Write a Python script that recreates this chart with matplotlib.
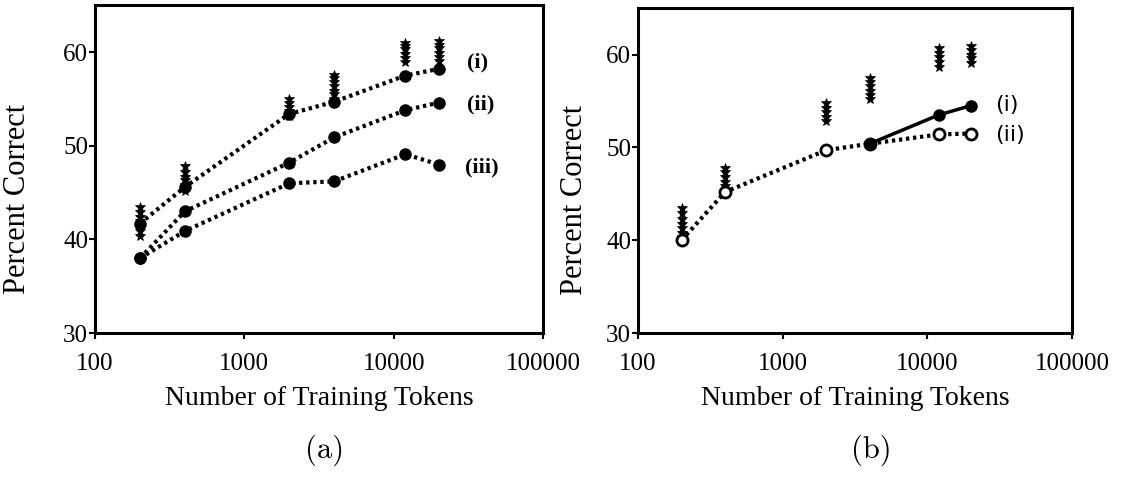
import matplotlib.pyplot as plt
from matplotlib.ticker import FixedLocator, NullLocator, FixedFormatter

# training set sizes (x axis, log scale)
tokens = [200, 400, 2000, 4000, 12000, 20000]

# panel (a) curves
a_i = [41.7, 45.6, 53.4, 54.7, 57.5, 58.2]
a_ii = [38.0, 43.0, 48.2, 50.9, 53.8, 54.6]
a_iii = [38.0, 40.9, 46.0, 46.2, 49.1, 48.0]

# panel (b) curves
b_i_tokens = [4000, 12000, 20000]
b_i = [50.4, 53.5, 54.5]
b_ii = [40.0, 45.2, 49.7, 50.4, 51.4, 51.5]

# stacked star marks above each training size
stars_a = [
    [40.4, 40.9, 41.5, 42.0, 42.4, 42.9, 43.5],
    [45.2, 45.8, 46.3, 46.7, 47.2, 47.8],
    [53.2, 53.7, 54.1, 54.6, 55.0],
    [55.0, 55.5, 55.9, 56.4, 56.8, 57.2, 57.6],
    [58.9, 59.4, 59.8, 60.3, 60.7, 61.0],
    [59.0, 59.5, 59.9, 60.4, 60.8, 61.2],
]
stars_b = [
    [40.3, 40.8, 41.3, 41.8, 42.3, 42.9, 43.5],
    [45.3, 45.8, 46.3, 46.8, 47.3, 47.8],
    [52.8, 53.3, 53.8, 54.3, 54.8],
    [55.2, 55.7, 56.1, 56.6, 57.0, 57.5],
    [58.7, 59.2, 59.7, 60.2, 60.7],
    [59.1, 59.6, 60.0, 60.5, 60.9],
]

xticks = [100, 1000, 10000, 100000]
xtick_labels = ['100', '1000', '10000', '100000']
yticks = [30, 40, 50, 60]

serif = 'Liberation Serif'
dotted = (0, (0.8, 0.9))

fig = plt.figure(figsize=(11.34, 4.8), dpi=100)
ax_a = fig.add_axes([0.0838, 0.306, 0.395, 0.683])
ax_b = fig.add_axes([0.5626, 0.306, 0.3827, 0.677])


def style_axes(ax, ylab_x):
    ax.set_xscale('log')
    ax.set_xlim(100, 100000)
    ax.set_ylim(30, 65)
    ax.xaxis.set_major_locator(FixedLocator(xticks))
    ax.xaxis.set_major_formatter(FixedFormatter(xtick_labels))
    ax.xaxis.set_minor_locator(NullLocator())
    ax.set_yticks(yticks)
    for s in ax.spines.values():
        s.set_linewidth(2.2)
    ax.tick_params(direction='out', length=4, width=1.5, labelsize=18)
    ax.tick_params(axis='x', pad=10)
    ax.tick_params(axis='y', pad=1)
    for lab in ax.get_xticklabels() + ax.get_yticklabels():
        lab.set_fontfamily(serif)
    ax.set_xlabel('Number of Training Tokens', fontsize=20,
                  fontfamily=serif, labelpad=8)
    ax.set_ylabel('Percent Correct', fontsize=22, fontfamily=serif)
    ax.yaxis.set_label_coords(ylab_x, 0.41)


def draw_stars(ax, stars):
    for t, vals in zip(tokens, stars):
        ax.plot([t] * len(vals), vals, ls='none', marker='*', ms=7,
                color='black', mew=0.5)


# panel (a)
style_axes(ax_a, -0.14)
draw_stars(ax_a, stars_a)
for vals in (a_i, a_ii, a_iii):
    ax_a.plot(tokens, vals, ls=dotted, lw=3, color='black', marker='o',
              ms=8)
ax_a.text(31000, 58.9, '(i)', fontsize=16, fontweight='bold',
          fontfamily=serif, va='center')
ax_a.text(31000, 54.4, '(ii)', fontsize=16, fontweight='bold',
          fontfamily=serif, va='center')
ax_a.text(30000, 47.7, '(iii)', fontsize=16, fontweight='bold',
          fontfamily=serif, va='center')

# panel (b)
style_axes(ax_b, -0.112)
draw_stars(ax_b, stars_b)
ax_b.plot(tokens, b_ii, ls=dotted, lw=3, color='black', marker='o', ms=8,
          mfc='white', mew=2)
ax_b.plot(b_i_tokens, b_i, ls='-', lw=2.5, color='black', marker='o', ms=8)
ax_b.text(29300, 54.6, '(i)', fontsize=16, fontfamily='DejaVu Sans',
          va='center')
ax_b.text(29300, 51.3, '(ii)', fontsize=16, fontfamily='DejaVu Sans',
          va='center')

fig.text(0.286, 0.062, '(a)', fontsize=22, fontfamily='cmr10',
         ha='center', va='center')
fig.text(0.768, 0.062, '(b)', fontsize=22, fontfamily='cmr10',
         ha='center', va='center')

fig.savefig('out.png', dpi=100)
